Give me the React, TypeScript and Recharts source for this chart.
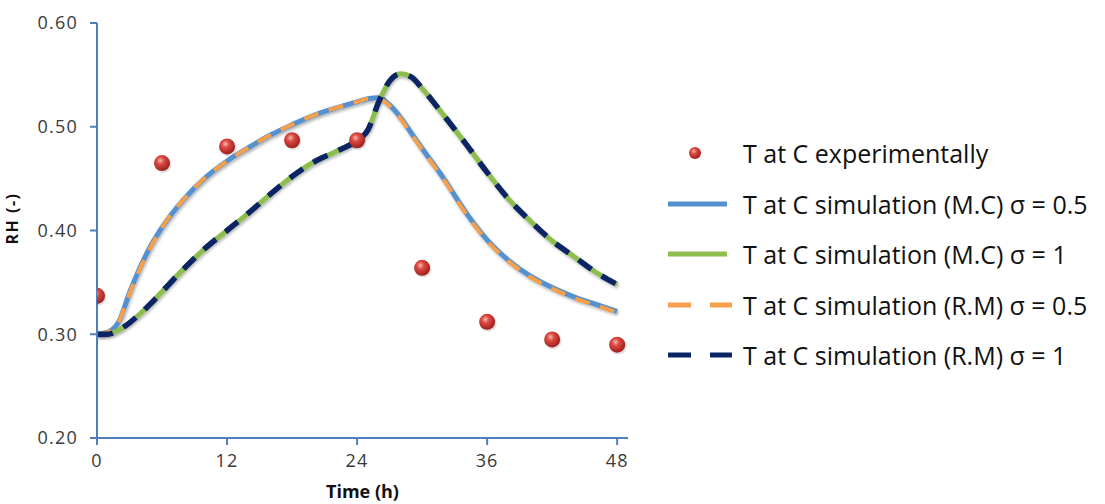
import React from "react";
import { ComposedChart, Line, Scatter, XAxis, YAxis } from "recharts";

// Time axis (h)
const xTicks = [0, 12, 24, 36, 48];
const yTicks = [0.2, 0.3, 0.4, 0.5, 0.6];

// Experimental points
const expTime = [0, 6, 12, 18, 24, 30, 36, 42, 48];
const expRH = [0.337, 0.465, 0.481, 0.487, 0.487, 0.364, 0.312, 0.295, 0.290];

// Simulation sample times
const simTime = [0, 1, 2, 3, 4, 5, 6, 8, 10, 12, 14, 16, 18, 20, 22, 24, 25, 26, 27, 28, 29, 30, 32, 34, 36, 38, 40, 42, 44, 46, 48];

// M.C sigma = 0.5 (blue)
const mc05 = [0.300, 0.302, 0.312, 0.340, 0.365, 0.386, 0.403, 0.430, 0.451, 0.467, 0.480, 0.492, 0.502, 0.511, 0.518, 0.524, 0.527, 0.528, 0.521, 0.509, 0.494, 0.479, 0.450, 0.418, 0.391, 0.371, 0.356, 0.345, 0.336, 0.329, 0.322];
// M.C sigma = 1 (green)
const mc1 = [0.300, 0.300, 0.304, 0.311, 0.320, 0.330, 0.341, 0.363, 0.383, 0.400, 0.417, 0.435, 0.452, 0.466, 0.476, 0.487, 0.497, 0.524, 0.544, 0.551, 0.548, 0.537, 0.511, 0.484, 0.456, 0.430, 0.409, 0.390, 0.375, 0.360, 0.348];
// R.M sigma = 0.5 (orange dashed)
const rm05 = [0.300, 0.302, 0.312, 0.339, 0.364, 0.385, 0.403, 0.430, 0.451, 0.467, 0.480, 0.492, 0.502, 0.511, 0.518, 0.524, 0.527, 0.527, 0.520, 0.508, 0.493, 0.478, 0.449, 0.417, 0.390, 0.370, 0.355, 0.344, 0.335, 0.328, 0.321];
// R.M sigma = 1 (navy dashed)
const rm1 = [0.300, 0.300, 0.304, 0.311, 0.320, 0.330, 0.341, 0.363, 0.383, 0.400, 0.417, 0.435, 0.452, 0.466, 0.476, 0.487, 0.497, 0.524, 0.544, 0.551, 0.548, 0.537, 0.511, 0.484, 0.456, 0.430, 0.409, 0.390, 0.375, 0.360, 0.348];

const seriesNames = [
  "T at C experimentally",
  "T at C simulation (M.C) σ = 0.5",
  "T at C simulation (M.C) σ = 1",
  "T at C simulation (R.M) σ = 0.5",
  "T at C simulation (R.M) σ = 1",
];

const BLUE = "#5590CF";
const GREEN = "#8DBE4E";
const ORANGE = "#F7A04C";
const NAVY = "#0B2466";
const AXIS = "#4F7FBE";

const expData = expTime.map((t, i) => ({ t, rh: expRH[i] }));
const mk = (arr: number[]) => simTime.map((t, i) => ({ t, rh: arr[i] }));
const mc05Data = mk(mc05);
const mc1Data = mk(mc1);
const rm05Data = mk(rm05);
const rm1Data = mk(rm1);

const Ball = (props: any) => {
  const { cx, cy } = props;
  if (cx == null || cy == null) return null;
  return (
    <g>
      <circle cx={cx + 1} cy={cy + 1.5} r={8.5} fill="rgba(0,0,0,0.12)" />
      <circle cx={cx} cy={cy} r={8} fill="url(#ballGrad)" />
    </g>
  );
};

const tickStyle = { fontFamily: "Open Sans", fontSize: 18, fill: "#3a3a3a", letterSpacing: 1.2 };

const LegendRow = ({ kind, color, label }: { kind: string; color: string; label: string }) => (
  <div style={{ display: "flex", alignItems: "center", height: 50.5 }}>
    <svg width={75} height={20} style={{ flex: "none" }}>
      {kind === "dot" && <circle cx={27} cy={10} r={6} fill="url(#ballGrad)" />}
      {kind === "line" && <line x1={0} x2={59} y1={10} y2={10} stroke={color} strokeWidth={5} />}
      {kind === "dash" && (
        <g>
          <line x1={0} x2={23} y1={10} y2={10} stroke={color} strokeWidth={5} />
          <line x1={42} x2={64} y1={10} y2={10} stroke={color} strokeWidth={5} />
        </g>
      )}
    </svg>
    <span style={{ fontFamily: "Open Sans", fontSize: 25, color: "#111", whiteSpace: "nowrap", lineHeight: "30px" }}>
      {label}
    </span>
  </div>
);

export default function App() {
  return (
    <div style={{ position: "absolute", left: 0, top: 0, width: 1105, height: 504, background: "#fff" }}>
      <style>{`.shadowed .recharts-curve { filter: url(#lineShadow); }`}</style>
      <svg width={0} height={0} style={{ position: "absolute" }}>
        <defs>
          <radialGradient id="ballGrad" cx="40%" cy="35%" r="65%">
            <stop offset="0%" stopColor="#F8B8B0" />
            <stop offset="35%" stopColor="#DB4B43" />
            <stop offset="100%" stopColor="#9E1E1C" />
          </radialGradient>
          <filter id="lineShadow" x="-10%" y="-10%" width="120%" height="130%">
            <feDropShadow dx="1" dy="2" stdDeviation="1.5" floodColor="#000" floodOpacity="0.3" />
          </filter>
        </defs>
      </svg>
      <ComposedChart
        width={640}
        height={504}
        margin={{ top: 23, right: 12, bottom: 0, left: 0 }}
      >
        <XAxis
          dataKey="t"
          type="number"
          domain={[0, 49]}
          ticks={xTicks}
          allowDataOverflow
          stroke={AXIS}
          strokeWidth={2}
          tickSize={7}
          tickMargin={9}
          height={66}
          tick={tickStyle}
          label={{
            value: "Time (h)",
            position: "insideBottom",
            offset: 6,
            style: { fontFamily: "Open Sans", fontSize: 18, fontWeight: 700, fill: "#111" },
          }}
        />
        <YAxis
          dataKey="rh"
          type="number"
          domain={[0.2, 0.6]}
          ticks={yTicks}
          allowDataOverflow
          width={97}
          stroke={AXIS}
          strokeWidth={2}
          tickSize={7}
          tickMargin={12}
          tick={tickStyle}
          tickFormatter={(v: number) => v.toFixed(2)}
          label={{
            value: "RH (-)",
            angle: -90,
            position: "insideLeft",
            offset: 12,
            dy: -12,
            style: { fontFamily: "Open Sans", fontSize: 16, fontWeight: 700, fill: "#111", textAnchor: "middle", letterSpacing: 1.5 },
          }}
        />
        <Scatter
          name={seriesNames[0]}
          data={expData}
          dataKey="rh"
          shape={<Ball />}
          isAnimationActive={false}
        />
        <Line
          name={seriesNames[1]}
          data={mc05Data}
          dataKey="rh"
          type="monotone"
          stroke={BLUE}
          strokeWidth={5}
          className="shadowed"
          dot={false}
          activeDot={false}
          isAnimationActive={false}
        />
        <Line
          name={seriesNames[2]}
          data={mc1Data}
          dataKey="rh"
          type="monotone"
          stroke={GREEN}
          strokeWidth={5}
          className="shadowed"
          dot={false}
          activeDot={false}
          isAnimationActive={false}
        />
        <Line
          name={seriesNames[3]}
          data={rm05Data}
          dataKey="rh"
          type="monotone"
          stroke={ORANGE}
          strokeWidth={4}
          strokeDasharray="15 11"
          dot={false}
          activeDot={false}
          isAnimationActive={false}
        />
        <Line
          name={seriesNames[4]}
          data={rm1Data}
          dataKey="rh"
          type="monotone"
          stroke={NAVY}
          strokeWidth={5.5}
          strokeDasharray="16 12"
          dot={false}
          activeDot={false}
          isAnimationActive={false}
        />
      </ComposedChart>
      <div style={{ position: "absolute", left: 668, top: 128 }}>
        <LegendRow kind="dot" color="" label={seriesNames[0]} />
        <LegendRow kind="line" color={BLUE} label={seriesNames[1]} />
        <LegendRow kind="line" color={GREEN} label={seriesNames[2]} />
        <LegendRow kind="dash" color={ORANGE} label={seriesNames[3]} />
        <LegendRow kind="dash" color={NAVY} label={seriesNames[4]} />
      </div>
    </div>
  );
}
